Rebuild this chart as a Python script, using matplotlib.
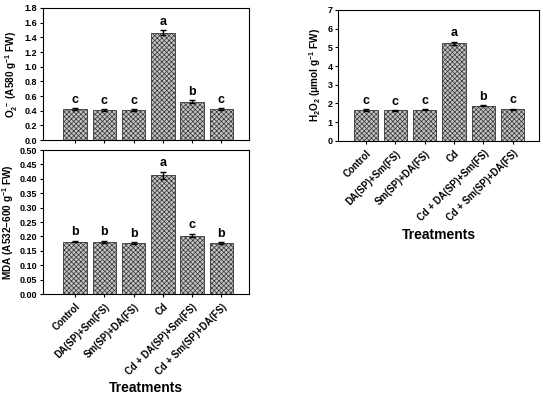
import matplotlib
matplotlib.use("Agg")
import matplotlib.pyplot as plt
import numpy as np

plt.rcParams['font.family'] = ['Liberation Sans', 'DejaVu Sans']
plt.rcParams['font.weight'] = 'bold'
plt.rcParams['mathtext.fontset'] = 'custom'
plt.rcParams['mathtext.rm'] = 'Liberation Sans:bold'
plt.rcParams['mathtext.bf'] = 'Liberation Sans:bold'
plt.rcParams['mathtext.it'] = 'Liberation Sans:bold'
plt.rcParams['mathtext.default'] = 'bf'
plt.rcParams['hatch.linewidth'] = 0.5
plt.rcParams['hatch.color'] = '#5a5a5a'

categories = ["Control", "DA(SP)+Sm(FS)", "Sm(SP)+DA(FS)", "Cd",
              "Cd + DA(SP)+Sm(FS)", "Cd + Sm(SP)+DA(FS)"]

o2_vals = [0.42, 0.41, 0.41, 1.46, 0.52, 0.42]
o2_err = [0.01, 0.01, 0.01, 0.035, 0.02, 0.01]
o2_letters = ["c", "c", "c", "a", "b", "c"]

mda_vals = [0.182, 0.181, 0.176, 0.413, 0.203, 0.176]
mda_err = [0.003, 0.004, 0.003, 0.012, 0.005, 0.003]
mda_letters = ["b", "b", "b", "a", "c", "b"]

h2o2_vals = [1.65, 1.63, 1.67, 5.22, 1.88, 1.70]
h2o2_err = [0.03, 0.03, 0.03, 0.09, 0.04, 0.03]
h2o2_letters = ["c", "c", "c", "a", "b", "c"]

fig = plt.figure(figsize=(5.5, 3.99), dpi=100)

ax1 = fig.add_axes([0.078, 0.649, 0.375, 0.331])
ax2 = fig.add_axes([0.078, 0.263, 0.375, 0.361])
ax3 = fig.add_axes([0.615, 0.647, 0.365, 0.328])

x = np.arange(1, len(categories) + 1)


def draw(ax, vals, errs, letters, ylim, yticks, fmt, ylabel, off, xlim, show_labels):
    ax.bar(x, vals, width=0.8, color='#c4c4c4', edgecolor='#333333',
           linewidth=0.6, hatch='xxxxxxx', zorder=2)
    ax.errorbar(x, vals, yerr=errs, fmt='none', ecolor='black',
                elinewidth=1.0, capsize=2, capthick=1.0, zorder=3)
    for xi, v, e, l in zip(x, vals, errs, letters):
        ax.text(xi, v + e + off, l, ha='center', va='bottom',
                fontsize=9, fontweight='bold')
    ax.set_ylim(*ylim)
    ax.set_xlim(*xlim)
    ax.set_yticks(yticks)
    ax.set_yticklabels([fmt.format(t) for t in yticks], fontsize=6.5,
                       fontweight='bold')
    ax.set_xticks(x)
    ax.tick_params(axis='y', direction='out', length=2.5, width=0.8, pad=1.5)
    ax.tick_params(axis='x', direction='out', length=2.5, width=0.8, pad=3)
    if show_labels:
        ax.set_xticklabels(categories, rotation=45, ha='right',
                           rotation_mode='anchor', fontsize=6.9,
                           fontweight='bold')
        ax.set_xlabel('Treatments', fontsize=10, fontweight='bold', labelpad=3)
    else:
        ax.set_xticklabels([])
    ax.set_ylabel(ylabel, fontsize=7.2, fontweight='bold', labelpad=3)
    for s in ax.spines.values():
        s.set_linewidth(0.8)


draw(ax1, o2_vals, o2_err, o2_letters, (0, 1.8),
     np.round(np.arange(0, 1.81, 0.2), 1), "{:.1f}",
     r"O$_2^{\cdot -}$ (A580 g$^{-1}$ FW)", 0.03, (-0.1, 6.95), False)

draw(ax2, mda_vals, mda_err, mda_letters, (0, 0.5),
     np.round(np.arange(0, 0.501, 0.05), 2), "{:.2f}",
     r"MDA (A532$-$600 g$^{-1}$ FW)", 0.01, (-0.1, 6.95), True)

draw(ax3, h2o2_vals, h2o2_err, h2o2_letters, (0, 7),
     np.arange(0, 8, 1), "{:d}",
     r"H$_2$O$_2$ ($\mu$mol g$^{-1}$ FW)", 0.12, (0.05, 6.9), True)

fig.savefig("out.png", dpi=100)
